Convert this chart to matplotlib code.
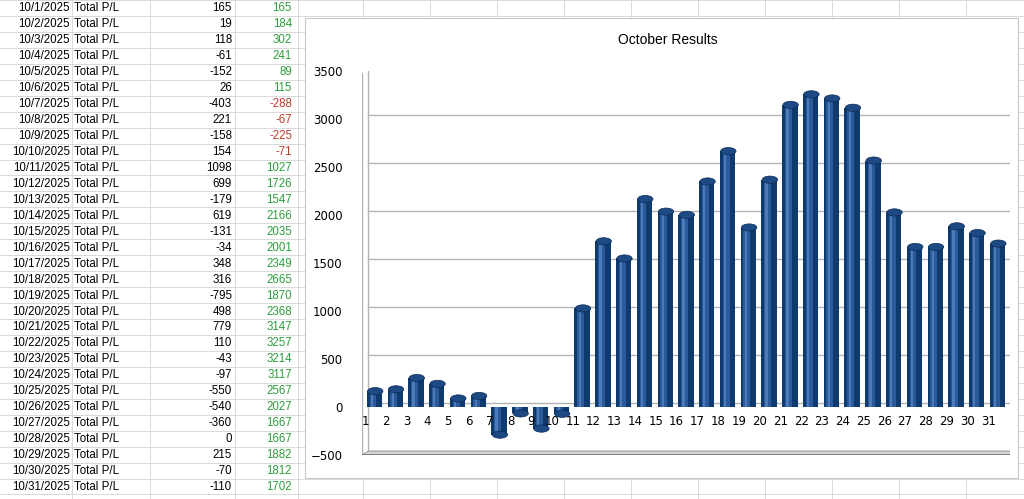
import matplotlib
matplotlib.use("Agg")
import matplotlib.pyplot as plt
from matplotlib.patches import Ellipse, Polygon, Rectangle

dates = [f"10/{d}/2025" for d in range(1, 32)]
label = "Total P/L"
daily = [165, 19, 118, -61, -152, 26, -403, 221, -158, 154, 1098, 699, -179, 619, -131, -34,
         348, 316, -795, 498, 779, 110, -43, -97, -550, -540, -360, 0, 215, -70, -110]
cumul = [165, 184, 302, 241, 89, 115, -288, -67, -225, -71, 1027, 1726, 1547, 2166, 2035, 2001,
         2349, 2665, 1870, 2368, 3147, 3257, 3214, 3117, 2567, 2027, 1667, 1667, 1882, 1812, 1702]
title = "October Results"
yticks = list(range(-500, 3501, 500))

W, H = 1024, 499
fig = plt.figure(figsize=(W/100, H/100), dpi=100)
bg = fig.add_axes([0, 0, 1, 1])
bg.set_xlim(0, W); bg.set_ylim(H, 0); bg.axis("off")

rh = 15.95
for i in range(33):
    y = i * rh
    bg.plot([0, W], [y, y], color="#d9d9d9", lw=0.7)
for x in [72, 150, 235, 298, 363, 430, 497, 564, 631, 698, 765, 832, 899, 966]:
    bg.plot([x, x], [0, H], color="#d9d9d9", lw=0.7)
for i, (d, v, c) in enumerate(zip(dates, daily, cumul)):
    yc = i * rh + rh / 2 + 0.5
    bg.text(70, yc, d, ha="right", va="center", fontsize=8.3, family="Liberation Sans")
    bg.text(74, yc, label, ha="left", va="center", fontsize=8.3, family="Liberation Sans")
    bg.text(232, yc, str(v), ha="right", va="center", fontsize=8.3, family="Liberation Sans")
    bg.text(292, yc, str(c), ha="right", va="center", fontsize=8.3, family="Liberation Sans",
            color="#2e9e3e" if c >= 0 else "#c0392b")
bg.add_patch(Rectangle((305, 18), 713, 460, facecolor="white", edgecolor="#c8c8c8", lw=0.8, zorder=2))
bg.text(668, 40, title, ha="center", va="center", fontsize=10, family="Liberation Sans", zorder=3)

ax = fig.add_axes([362/W, 1 - 455/H, (1010-362)/W, (455-71)/H], zorder=3)
ax.patch.set_alpha(0)
ax.set_ylim(-500, 3500)
ax.set_xlim(0.4, 31.6)
for s in ax.spines.values():
    s.set_visible(False)
ax.set_yticks(yticks)
ax.tick_params(axis="y", length=0, labelsize=8.5, pad=14)
ax.set_xticks([])
dx, dy = 0.3, 40
for t in yticks:
    ax.plot([0.4 + dx, 31.6], [t + dy, t + dy], color="#b3b3b3", lw=1.0, zorder=0)
ax.plot([0.4 + dx, 0.4 + dx], [-500 + dy, 3500 + dy], color="#b3b3b3", lw=1.0, zorder=0)
ax.plot([0.4, 0.4], [-500, 3500 - dy/2], color="#b3b3b3", lw=1.0, zorder=0)
ax.add_patch(Polygon([(0.4, -500), (0.4 + dx, -500 + dy), (31.6 + 0.3, -500 + dy), (31.6, -500)],
                     closed=True, facecolor="#d8d8d8", edgecolor="#a0a0a0", lw=0.8, zorder=0))
ax.plot([0.4, 31.6], [-500, -500], color="#808080", lw=1.5, zorder=0)

for i, v in enumerate(cumul):
    x = i + 1
    w = 0.74
    ax.bar(x, v, width=w, color="#0f3a6e", zorder=2)
    ax.bar(x - 0.07, v, width=w * 0.45, color="#2a5a9a", zorder=2)
    ax.bar(x - 0.12, v, width=w * 0.15, color="#4a7ab8", zorder=2)
    ax.add_patch(Ellipse((x + 0.04, v), w, 75, facecolor="#1d4a85", edgecolor="#0a2a55", lw=0.5, zorder=3))
    ax.text(x - 0.45, -150, str(x), ha="center", va="center", fontsize=8.5, zorder=4)

fig.savefig("out.png", dpi=100)
